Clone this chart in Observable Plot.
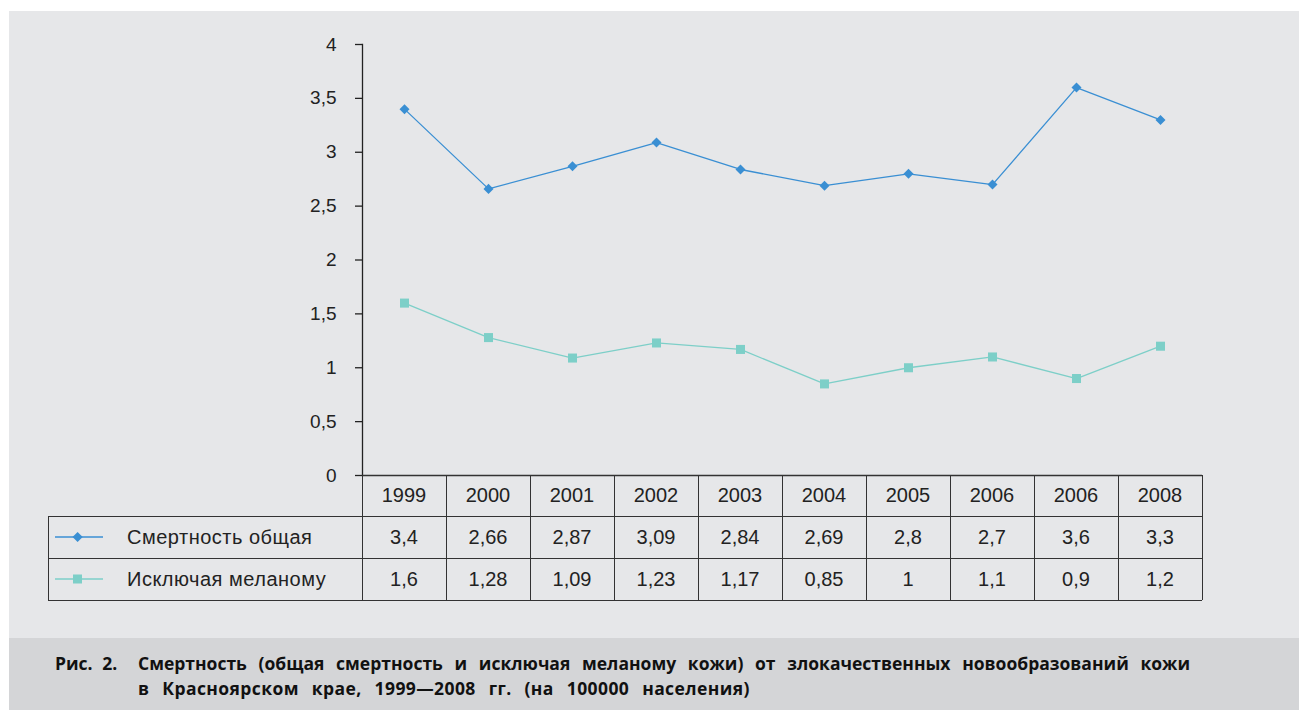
<!DOCTYPE html>
<html>
<head>
<meta charset="utf-8">
<script src="https://cdn.jsdelivr.net/npm/d3@7"></script>
<script src="https://cdn.jsdelivr.net/npm/@observablehq/plot@0.6"></script>
<style>
  html, body { margin: 0; padding: 0; background: #ffffff; }
  #wrap { position: absolute; left: 9px; top: 11px; width: 1290px; height: 627px; background: #e6e7e9; overflow: hidden; }
  #caption { position: absolute; left: 9px; top: 638px; width: 1290px; height: 72px; background: #d4d5d7; }
  .cell { position: absolute; display: flex; align-items: center; justify-content: center;
          font-family: "Liberation Sans", Arial, sans-serif; font-size: 20px; color: #222; }
  .hl { position: absolute; height: 0; border-top: 1.3px solid #333; }
  .vl { position: absolute; width: 0; border-left: 1.3px solid #333; }
  .cap { position: absolute; font-family: "Open Sans", "Noto Sans", sans-serif; font-weight: 700;
         font-size: 17.5px; color: #111; white-space: nowrap; line-height: 22px; }
</style>
</head>
<body>
<div id="wrap"></div>
<div id="caption"></div>
<script>
// ---- data ----
const years = ["1999", "2000", "2001", "2002", "2003", "2004", "2005", "2006", "2006", "2008"];
const totalMortality = [3.4, 2.66, 2.87, 3.09, 2.84, 2.69, 2.8, 2.7, 3.6, 3.3];
const exclMelanoma = [1.6, 1.28, 1.09, 1.23, 1.17, 0.85, 1, 1.1, 0.9, 1.2];
const seriesNames = ["Смертность общая", "Исключая меланому"];
const seriesColors = ["#3a8fd3", "#7dcfc8"];
const yTicks = [0, 0.5, 1, 1.5, 2, 2.5, 3, 3.5, 4];
const captionLabel = "Рис. 2.";
const captionLine1 = "Смертность (общая смертность и исключая меланому кожи) от злокачественных новообразований кожи";
const captionLine2 = "в Красноярском крае, 1999—2008 гг. (на 100000 населения)";

const fmt = v => String(v).replace(".", ",");
const idx = d3.range(years.length);
const rowsTotal = idx.map(i => ({i, v: totalMortality[i]}));
const rowsExcl = idx.map(i => ({i, v: exclMelanoma[i]}));

const plot = Plot.plot({
  width: 1290,
  height: 470,
  marginTop: 33,
  marginBottom: 6,
  marginLeft: 353,
  marginRight: 97,
  style: {background: "transparent", fontFamily: "'Liberation Sans', Arial, sans-serif", fontSize: "19px", color: "#222", overflow: "visible"},
  x: {type: "band", domain: idx, padding: 0, axis: null},
  y: {domain: [0, 4], axis: null},
  marks: [
    Plot.axisY({ticks: yTicks, tickFormat: fmt, tickSize: 7, tickPadding: 19, fontSize: 19, label: null, stroke: "#222", strokeWidth: 1.3, fill: "#222"}),
    Plot.frame({anchor: "left", stroke: "#222", strokeWidth: 1.3}),
    Plot.ruleY([0], {stroke: "#333", strokeWidth: 1.3}),
    Plot.line(rowsTotal, {x: "i", y: "v", stroke: seriesColors[0], strokeWidth: 1.3}),
    Plot.dot(rowsTotal, {x: "i", y: "v", symbol: "square", rotate: 45, r: 4, fill: seriesColors[0], stroke: null}),
    Plot.line(rowsExcl, {x: "i", y: "v", stroke: seriesColors[1], strokeWidth: 1.3}),
    Plot.dot(rowsExcl, {x: "i", y: "v", symbol: "square", r: 5.1, fill: seriesColors[1], stroke: null})
  ]
});
const wrap = document.getElementById("wrap");
plot.style.position = "absolute";
plot.style.left = "0px";
plot.style.top = "0px";
wrap.appendChild(plot);

// ---- data table below the axis, aligned with the Plot x scale ----
const xs = plot.scale("x");
const bw = xs.bandwidth;
const x0 = xs.apply(0);
const x1 = xs.apply(idx[idx.length - 1]) + bw;
const tableLeft = 39;
const rowTops = [464, 505, 547, 589];

function add(cls, styles, html) {
  const d = document.createElement("div");
  d.className = cls;
  Object.assign(d.style, styles);
  if (html != null) d.innerHTML = html;
  wrap.appendChild(d);
  return d;
}
for (let r = 1; r < rowTops.length; r++) {
  add("hl", {left: tableLeft + "px", top: rowTops[r] + "px", width: (x1 - tableLeft) + "px"});
}
for (let k = 0; k <= idx.length; k++) {
  const x = k < idx.length ? xs.apply(k) : x1;
  add("vl", {left: x + "px", top: rowTops[0] + "px", height: (rowTops[3] - rowTops[0]) + "px"});
}
add("vl", {left: tableLeft + "px", top: rowTops[1] + "px", height: (rowTops[3] - rowTops[1]) + "px"});

const tableRows = [years, totalMortality.map(fmt), exclMelanoma.map(fmt)];
tableRows.forEach((vals, r) => {
  vals.forEach((t, i) => {
    add("cell", {left: xs.apply(i) + "px", top: rowTops[r] + "px", width: bw + "px", height: (rowTops[r + 1] - rowTops[r]) + "px"}, t);
  });
});
seriesNames.forEach((name, s) => {
  const top = rowTops[s + 1], h = rowTops[s + 2] - top;
  const mk = s === 0
    ? `<rect x="19" y="-3.6" width="7.2" height="7.2" transform="rotate(45 22.6 0)" fill="${seriesColors[s]}"/>`
    : `<rect x="18" y="-4.5" width="9" height="9" fill="${seriesColors[s]}"/>`;
  const svg = `<svg width="50" height="12" viewBox="0 -6 50 12" style="position:absolute;left:7px;top:${h / 2 - 6}px"><line x1="0" x2="48" y1="0" y2="0" stroke="${seriesColors[s]}" stroke-width="1.3"/>${mk}</svg>`;
  const c = add("cell", {left: tableLeft + "px", top: top + "px", width: (x0 - tableLeft) + "px", height: h + "px", justifyContent: "flex-start"}, svg);
  const lbl = document.createElement("span");
  lbl.textContent = name;
  lbl.style.marginLeft = "79px";
  lbl.style.letterSpacing = "0.5px";
  c.appendChild(lbl);
});

// ---- caption ----
const cap = document.getElementById("caption");
const l = document.createElement("div");
l.className = "cap"; l.style.left = "46px"; l.style.top = "14px"; l.style.wordSpacing = "5px"; l.textContent = captionLabel;
cap.appendChild(l);
const c1 = document.createElement("div");
c1.className = "cap"; c1.style.left = "129px"; c1.style.top = "14px"; c1.style.width = "1052px";
c1.style.whiteSpace = "normal"; c1.style.textAlign = "justify"; c1.style.textAlignLast = "justify";
c1.textContent = captionLine1;
cap.appendChild(c1);
const c2 = document.createElement("div");
c2.className = "cap"; c2.style.left = "129px"; c2.style.top = "39px"; c2.style.wordSpacing = "8px"; c2.style.letterSpacing = "0.4px";
c2.textContent = captionLine2;
cap.appendChild(c2);
</script>
</body>
</html>
